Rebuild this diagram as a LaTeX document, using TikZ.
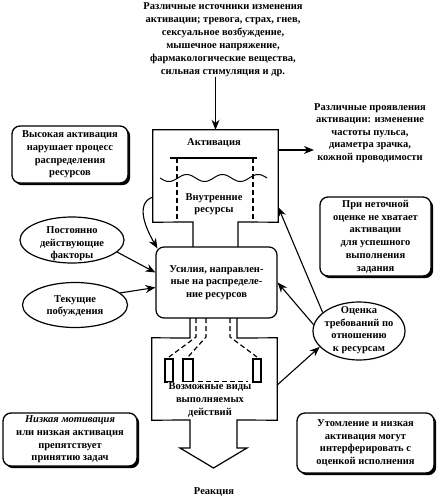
\documentclass[tikz,border=0pt]{standalone}
\usepackage{fontspec}
\setmainfont{Liberation Serif}
\usetikzlibrary{arrows.meta,shapes.geometric,shadows}
\begin{document}
\begin{tikzpicture}[x=1pt,y=-1pt,
  every node/.style={font=\fontsize{10.5}{12.6}\selectfont\bfseries, align=center, inner sep=0pt},
  line/.style={line width=1.2pt, line join=miter},
  arr/.style={line width=1.1pt, -{Stealth[length=10pt,width=8pt]}},
  dsh/.style={line width=1.2pt, dash pattern=on 5pt off 3pt},
  shbox/.style={draw, line width=1.3pt, rounded corners=8pt, fill=white,
    drop shadow={shadow xshift=2.2pt, shadow yshift=-2.2pt, opacity=1, fill=black}},
  ell/.style={draw, ellipse, line width=1.2pt, inner sep=0pt}
]
\useasboundingbox (0,0) rectangle (441,500);

% top source text
\node[font=\fontsize{10.5}{13}\selectfont\bfseries] (src) at (223,40) {Различные источники изменения\\активации; тревога, страх, гнев,\\сексуальное возбуждение,\\мышечное напряжение,\\фармакологические вещества,\\сильная стимуляция и др.};

% activation block
\node[minimum width=125pt, minimum height=92pt] (act) at (215.5,176) {};
\draw[line] (193,248) -- (193,222) -- (act.south west) -- (act.north west) -- (act.north east) -- (act.south east) -- (238,222) -- (238,248);
\node (actlbl) at (214,143) {Активация};
\draw[line] (170,158) -- (257,158);
\draw[dsh] (177,158) -- (177,222);
\draw[dsh] (253,158) -- (253,222);
\draw[line, line width=1pt] plot[domain=160:267, samples=80, smooth] (\x, {178 + 3.5*sin((\x-160)/35.7*360)});
\node (res) at (214,204) {Внутренние\\ресурсы};

% efforts box
\node[draw, line width=1.2pt, rounded corners=8pt, fill=white, minimum width=121pt, minimum height=71pt] (eff) at (216.5,282.5) {Усилия, направлен-\\ные на распределе-\\ние ресурсов};

% lower block with arrow
\node[minimum width=125pt, minimum height=82pt] (poss) at (214.5,379) {};
\draw[line] (190,318) -- (190,338) -- (poss.north west) -- (poss.south west) -- (190,420) -- (190,448) -- (180,448) -- (213.5,468) -- (247,448) -- (237,448) -- (237,420) -- (poss.south east) -- (poss.north east) -- (237,338) -- (237,318);
\draw[dsh] (196,318) -- (196,337) -- (169,357);
\draw[dsh] (206,318) -- (206,337) -- (188,357);
\draw[dsh] (230,318) -- (230,337) -- (257,357);
\draw[line] (165,359) rectangle (173,382);
\draw[line] (183,359) rectangle (193,382);
\draw[line] (253,359) rectangle (261,382);
\draw[dsh] (198,382) -- (248,382);
\node[fill=white, inner sep=1pt] (posslbl) at (210,400) {Возможные виды\\выполняемых\\действий};
\node (react) at (214,492) {Реакция};

% left side
\node[shbox, minimum width=116pt, minimum height=57pt] (hi) at (70,154.5) {Высокая активация\\нарушает процесс\\распределения\\ресурсов};
\node[ell, minimum width=104pt, minimum height=46pt] (f1) at (72,240) {};
\node (f1t) at (72,244) {Постоянно\\действующие\\факторы};
\node[ell, minimum width=105pt, minimum height=45pt] (f2) at (75,305) {};
\node (f2t) at (75,306) {Текущие\\побуждения};
\node[shbox, minimum width=134pt, minimum height=53pt] (low) at (70,439.5) {\itshape Низкая мотивация\\или низкая активация\\препятствует\\принятию задач};

% right side
\node (prop) at (370,133) {Различные проявления\\активации: изменение\\частоты пульса,\\диаметра зрачка,\\кожной проводимости};
\node[shbox, font=\fontsize{10.5}{12.8}\selectfont\bfseries, minimum width=111pt, minimum height=79pt] (ina) at (375.5,236.5) {При неточной\\оценке не хватает\\активации\\для успешного\\выполнения\\задания};
\node[ell, minimum width=92pt, minimum height=58pt] (oc) at (359,331) {};
\node (oct) at (359,330) {Оценка\\требований по\\отношению\\к ресурсам};
\node[shbox, minimum width=137pt, minimum height=60pt] (fat) at (365.5,443) {Утомление и низкая\\активация могут\\интерферировать с\\оценкой исполнения};

% connectors
\draw[arr] (src.south -| act.north) -- (act.north);
\draw[arr] ([yshift=26pt]act.east) -- ([yshift=26pt]act.east -| prop.west);
\draw[arr] ([yshift=-21pt]act.west) to[out=200, in=120] ([xshift=2pt,yshift=-2pt]eff.north west);
\draw[arr] (f1.-15) -- ([yshift=10pt]eff.west);
\draw[arr] (f2.15) -- ([yshift=-5pt]eff.west);
\draw[arr] (oc.153) -- ([yshift=-31pt]act.east);
\draw[arr] (oc.172) -- (eff.east);
\draw[arr] ([yshift=-6pt]poss.east) -- (oc.202);
\end{tikzpicture}
\end{document}
